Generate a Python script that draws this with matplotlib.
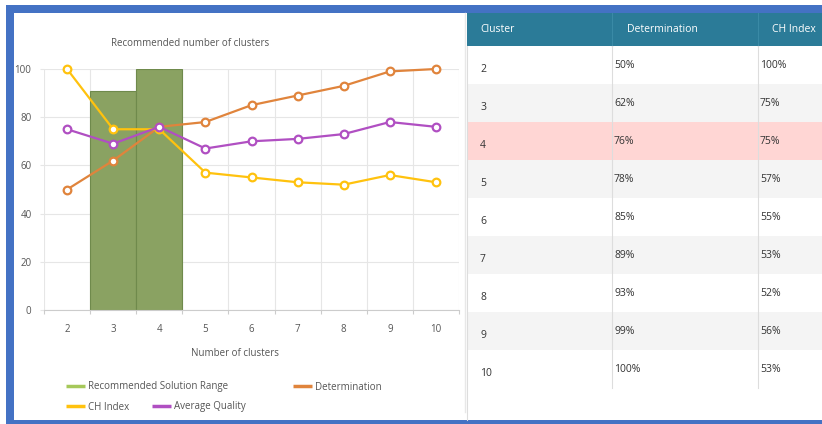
import matplotlib.pyplot as plt
from matplotlib.patches import Rectangle
from matplotlib.lines import Line2D

plt.rcParams['font.family'] = ['Open Sans', 'DejaVu Sans']

# ---------------- Data ----------------
clusters = [2, 3, 4, 5, 6, 7, 8, 9, 10]
determination = [50, 62, 76, 78, 85, 89, 93, 99, 100]
ch_index = [100, 75, 75, 57, 55, 53, 52, 56, 53]
avg_quality = [75, 69, 76, 67, 70, 71, 73, 78, 76]
rec_clusters = [3, 4]
rec_values = [91, 100]
highlight_cluster = 4
y_ticks = [0, 20, 40, 60, 80, 100]

# ---------------- Colours ----------------
BLUE = '#4472c4'
TEAL = '#2b7b98'
C_REC = '#8aa262'
C_REC_KEY = '#a6c85a'
C_DET = '#e0843c'
C_CH = '#ffc20e'
C_AVG = '#b04fc2'
GRID = '#e6e6e6'
TXT = '#555555'

W, H = 822, 424
fig = plt.figure(figsize=(W / 100, H / 100), dpi=100)

# full-figure layer in pixel units for the frame, table and legend
page = fig.add_axes([0, 0, 1, 1])
page.set_xlim(0, W)
page.set_ylim(H, 0)
page.axis('off')

page.add_patch(Rectangle((6, 5), W, H, color=BLUE, lw=0))
page.add_patch(Rectangle((14, 13), W, 407, color='white', lw=0))
page.plot([465, 465], [13, 412], color='#e8e8e8', lw=1)

# ---------------- Table ----------------
tx0, tx1 = 467, W
col_x = [tx0, 612, 758]
header_top, header_bot = 13, 46
row_h = 38
page.add_patch(Rectangle((tx0, header_top), tx1 - tx0, header_bot - header_top,
                         color=TEAL, lw=0))
for x in col_x[1:]:
    page.plot([x, x], [header_top, header_bot], color='#3a8aa6', lw=0.8)
for x, label in zip([480, 627, 772], ['Cluster', 'Determination', 'CH Index']):
    page.text(x, 30, label, color='white', fontsize=7.5, va='center', ha='left')

n_rows = len(clusters)
for i, (c, d, ch) in enumerate(zip(clusters, determination, ch_index)):
    top = header_bot + i * row_h
    if c == highlight_cluster:
        fc = '#ffd6d4'
    elif i % 2 == 1:
        fc = '#f4f4f4'
    else:
        fc = 'white'
    page.add_patch(Rectangle((tx0, top), tx1 - tx0, row_h, color=fc, lw=0))
    page.text(480, top + 23, str(c), color='#333333', fontsize=7.5, va='center')
    page.text(614, top + 20, f'{d}%', color='#333333', fontsize=7.5, va='center')
    page.text(760, top + 20, f'{ch}%', color='#333333', fontsize=7.5, va='center')
for x in col_x[1:]:
    page.plot([x, x], [header_bot, header_bot + n_rows * row_h], color='#dddddd', lw=0.8)
page.plot([tx0, tx0], [header_bot, 420], color='#dddddd', lw=0.8)

# ---------------- Chart ----------------
ax = fig.add_axes([44 / W, (H - 310) / H, (459 - 44) / W, (310 - 69) / H])
ax.set_facecolor('none')

ax.bar(rec_clusters, rec_values, width=1.0, color=C_REC, edgecolor='#6f8a4c',
       linewidth=0.8, zorder=2)

for vals, col in [(determination, C_DET), (ch_index, C_CH), (avg_quality, C_AVG)]:
    ax.plot(clusters, vals, color=col, lw=1.6, marker='o', markersize=5.5,
            markerfacecolor='white', markeredgecolor=col, markeredgewidth=1.6,
            zorder=3, clip_on=False)

ax.set_xlim(1.5, 10.5)
ax.set_ylim(0, 100)
ax.set_yticks(y_ticks)
ax.set_xticks([c - 0.5 for c in clusters] + [10.5])
ax.set_xticklabels([])
ax.set_xticks(clusters, minor=True)
ax.set_xticklabels([str(c) for c in clusters], minor=True)
ax.tick_params(axis='x', which='major', length=3, color='#cccccc')
ax.tick_params(axis='x', which='minor', length=0, pad=10, labelsize=7, labelcolor=TXT)
ax.tick_params(axis='y', length=3, color=GRID, pad=6, labelsize=7, labelcolor=TXT)
ax.grid(True, which='major', color=GRID, lw=0.8, zorder=0)
ax.set_axisbelow(True)
for s in ['top', 'right', 'left']:
    ax.spines[s].set_visible(False)
ax.spines['bottom'].set_color('#cccccc')

page.text(190, 43, 'Recommended number of clusters', ha='center', va='center',
          fontsize=7, color=TXT)
page.text(235, 353, 'Number of clusters', ha='center', va='center',
          fontsize=7, color=TXT)

# ---------------- Legend ----------------
legend_items = [
    (66, 387, C_REC_KEY, 'Recommended Solution Range'),
    (293, 387, C_DET, 'Determination'),
    (66, 407, C_CH, 'CH Index'),
    (152, 407, C_AVG, 'Average Quality'),
]
for x, y, col, label in legend_items:
    page.add_line(Line2D([x, x + 19], [y - 1, y - 1], color=col, lw=2.5,
                         solid_capstyle='butt'))
    page.text(x + 22, y, label, ha='left', va='center', fontsize=7, color=TXT)

fig.savefig('out.png', dpi=100)
